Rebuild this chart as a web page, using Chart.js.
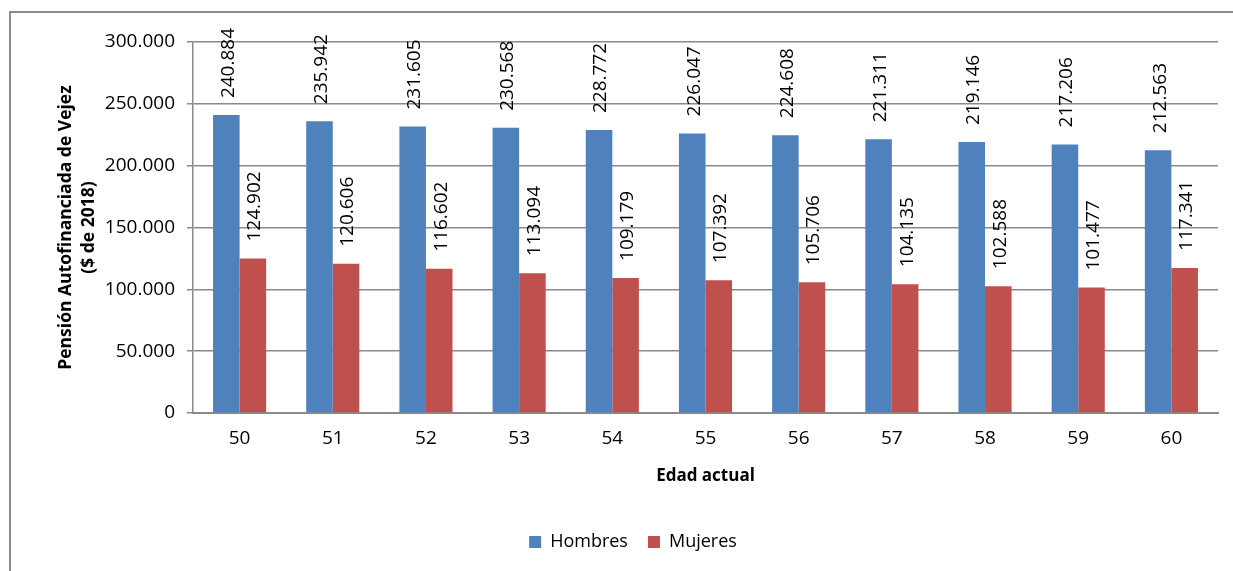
<!DOCTYPE html>
<html>
<head>
<meta charset="utf-8">
<script src="https://cdn.jsdelivr.net/npm/chart.js@4/dist/chart.umd.min.js"></script>
<style>
  html, body { margin: 0; padding: 0; background: #fff; overflow: hidden; }
  #wrap { width: 1266px; height: 571px; }
</style>
</head>
<body>
<div id="wrap"><canvas id="chart" width="1266" height="571"></canvas></div>
<script>
'use strict';

/* ── Datos ── */
const EDADES   = ['50', '51', '52', '53', '54', '55', '56', '57', '58', '59', '60'];
const HOMBRES  = [240884, 235942, 231605, 230568, 228772, 226047, 224608, 221311, 219146, 217206, 212563];
const MUJERES  = [124902, 120606, 116602, 113094, 109179, 107392, 105706, 104135, 102588, 101477, 117341];
const Y_TICKS  = [0, 50000, 100000, 150000, 200000, 250000, 300000];

const FONT = "'Open Sans', sans-serif";
const GRID = '#8a8a8a';

/** 240884 -> "240.884" */
function fmtMiles(v) {
  return String(Math.round(v)).replace(/\B(?=(\d{3})+(?!\d))/g, '.');
}

/* Marco gris alrededor del gráfico (como en Excel) */
const framePlugin = {
  id: 'frame',
  beforeDraw(chart) {
    const c = chart.ctx;
    c.save();
    c.fillStyle = '#fff';
    c.fillRect(0, 0, chart.width, chart.height);
    c.strokeStyle = '#8c8c8c';
    c.lineWidth = 2;
    c.strokeRect(10, 12, 1246, 570);
    c.restore();
  },
};

/* Etiquetas de valor rotadas 90° sobre cada barra */
const valueLabels = {
  id: 'valueLabels',
  afterDatasetsDraw(chart) {
    const c = chart.ctx;
    c.save();
    c.font = `19px ${FONT}`;
    c.fillStyle = '#000';
    c.textAlign = 'left';
    c.textBaseline = 'middle';
    chart.data.datasets.forEach((ds, i) => {
      chart.getDatasetMeta(i).data.forEach((bar, j) => {
        c.save();
        c.translate(bar.x + 2, bar.y - 17);
        c.rotate(-Math.PI / 2);
        c.fillText(fmtMiles(ds.data[j]), 0, 0);
        c.restore();
      });
    });
    c.restore();
  },
};

new Chart(document.getElementById('chart'), {
  type: 'bar',
  data: {
    labels: EDADES,
    datasets: [
      { label: 'Hombres', data: HOMBRES, backgroundColor: '#4F81BD', borderWidth: 0 },
      { label: 'Mujeres', data: MUJERES, backgroundColor: '#C0504D', borderWidth: 0 },
    ],
  },
  options: {
    responsive: false,
    animation: false,
    layout: { padding: { left: 48, right: 48, top: 42, bottom: 10 } },
    datasets: { bar: { categoryPercentage: 0.57, barPercentage: 1 } },
    plugins: {
      legend: {
        position: 'bottom',
        labels: {
          font: { family: FONT, size: 18 },
          color: '#000',
          boxWidth: 12,
          boxHeight: 12,
          padding: 20,
        },
      },
      tooltip: { enabled: false },
    },
    scales: {
      x: {
        grid: { display: false, drawTicks: false },
        border: { display: true, color: GRID, width: 2 },
        ticks: { font: { family: FONT, size: 19 }, color: '#000', padding: 14 },
        title: {
          display: true,
          text: 'Edad actual',
          font: { family: FONT, size: 17, weight: 'bold' },
          color: '#000',
          padding: { top: 14, bottom: 27 },
        },
        afterFit(scale) { scale.height = 100; },
      },
      y: {
        min: 0,
        max: 300000,
        afterBuildTicks(scale) { scale.ticks = Y_TICKS.map(v => ({ value: v })); },
        grid: { color: GRID, lineWidth: 1.5, tickLength: 6 },
        border: { display: true, color: GRID, width: 1.5 },
        ticks: {
          font: { family: FONT, size: 19 },
          color: '#000',
          padding: 12,
          callback: v => fmtMiles(v),
        },
        title: {
          display: true,
          text: ['Pensión Autofinanciada de Vejez', '($ de 2018)'],
          font: { family: FONT, size: 17.5, weight: 'bold', lineHeight: 1.35 },
          color: '#000',
          padding: { top: 6, bottom: 0 },
        },
        afterFit(scale) { scale.width = 145; },
      },
    },
  },
  plugins: [framePlugin, valueLabels],
});
</script>
</body>
</html>
